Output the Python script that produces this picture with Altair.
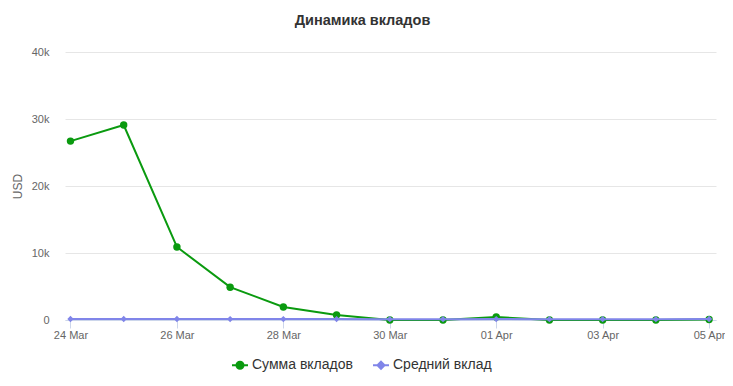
import altair as alt
import pandas as pd

dates = ["2024-03-24", "2024-03-25", "2024-03-26", "2024-03-27", "2024-03-28",
         "2024-03-29", "2024-03-30", "2024-03-31", "2024-04-01", "2024-04-02",
         "2024-04-03", "2024-04-04", "2024-04-05"]
sum_deposits = [26700, 29100, 10900, 4900, 1950, 750, 0, 0, 450, 0, 0, 0, 80]
avg_deposit = [150, 150, 150, 140, 140, 140, 130, 130, 140, 130, 130, 130, 150]
series_names = ["Сумма вкладов", "Средний вклад"]
series_colors = ["#0a9a0f", "#8085e9"]
tick_dates = ["2024-03-24", "2024-03-26", "2024-03-28", "2024-03-30",
              "2024-04-01", "2024-04-03", "2024-04-05"]
y_ticks = [0, 10000, 20000, 30000, 40000]

df_sum = pd.DataFrame({"date": dates, "value": sum_deposits})
df_avg = pd.DataFrame({"date": dates, "value": avg_deposit})
legend_df = pd.DataFrame({"lseries": series_names, "date": [dates[0]] * 2, "value": [0, 0]})

def ms(s):
    return int(pd.Timestamp(s, tz="UTC").timestamp() * 1000)

day = 86400000
x_domain = [ms(dates[0]) - int(0.103 * day), ms(dates[-1]) + int(0.13 * day)]
tick_vals = [ms(t) for t in tick_dates]

x_enc = alt.X("date:T", scale=alt.Scale(type="utc", domain=x_domain, nice=False),
              axis=alt.Axis(values=tick_vals, labelExpr="utcFormat(datum.value, '%d %b')",
                            title=None, grid=False, domainColor="#ccd6eb", tickColor="#ccd6eb",
                            tickSize=8, labelPadding=1, labelFontSize=11,
                            labelColor="#666666", labelFont="Liberation Sans",
                            labelFlush=False))
y_enc = alt.Y("value:Q", scale=alt.Scale(domain=[0, 40000], nice=False),
              axis=alt.Axis(values=y_ticks,
                            labelExpr="datum.value == 0 ? '0' : format(datum.value / 1000, 'd') + 'k'",
                            title="USD", domain=False,
                            ticks=False, labelPadding=16, labelFontSize=11,
                            labelColor="#666666", labelFont="Liberation Sans",
                            gridColor="#e6e6e6", titleFontSize=12, titleColor="#666666",
                            titleFont="Liberation Sans", titleFontWeight="normal",
                            titleX=-48, titleY=134, titleBaseline="middle", titleAngle=270))

sum_line = alt.Chart(df_sum).mark_line(strokeWidth=2, color=series_colors[0]).encode(x=x_enc, y=y_enc)
sum_pts = alt.Chart(df_sum).mark_point(filled=True, opacity=1, shape="circle", size=55,
                                       color=series_colors[0]).encode(x="date:T", y="value:Q")
avg_line = alt.Chart(df_avg).mark_line(strokeWidth=2, color=series_colors[1]).encode(x="date:T", y="value:Q")
avg_pts = alt.Chart(df_avg).mark_point(filled=True, opacity=1, shape="diamond", size=40,
                                       color=series_colors[1]).encode(x="date:T", y="value:Q")

p1 = "M -1 0 L 1 0 M -0.44 0 A 0.44 0.44 0 1 1 0.44 0 A 0.44 0.44 0 1 1 -0.44 0 Z"
p2 = "M -1 0 L 1 0 M 0 -0.44 L 0.44 0 L 0 0.44 L -0.44 0 Z"
leg_scale = alt.Scale(domain=series_names, range=series_colors)
legend = alt.Legend(title=None, orient="none", direction="horizontal", legendX=166, legendY=304,
                    symbolSize=256, symbolStrokeWidth=2, symbolOpacity=1, labelFontSize=14,
                    labelColor="#333333", labelFont="Liberation Sans", labelOffset=3,
                    columnPadding=16, padding=0)
leg = alt.Chart(legend_df).mark_point(opacity=0, filled=True).encode(
    x="date:T", y="value:Q",
    fill=alt.Fill("lseries:N", scale=leg_scale, legend=legend),
    stroke=alt.Stroke("lseries:N", scale=leg_scale, legend=legend),
    shape=alt.Shape("lseries:N", scale=alt.Scale(domain=series_names, range=[p1, p2]), legend=legend))

chart = alt.layer(sum_line, sum_pts, avg_line, avg_pts, leg).properties(
    width=651, height=268,
    background="white",
    autosize=alt.AutoSizeParams(type="none"),
    padding={"left": 57, "top": 44, "right": 9, "bottom": 58},
    title=alt.TitleParams("Динамика вкладов", fontSize=14.5, fontWeight="bold", color="#333333",
                          font="Liberation Sans", offset=18, dx=-28, anchor="middle"),
).configure_view(strokeWidth=0, stroke="transparent")

chart.save("out.html", embed_options={"renderer": "svg", "actions": False})
